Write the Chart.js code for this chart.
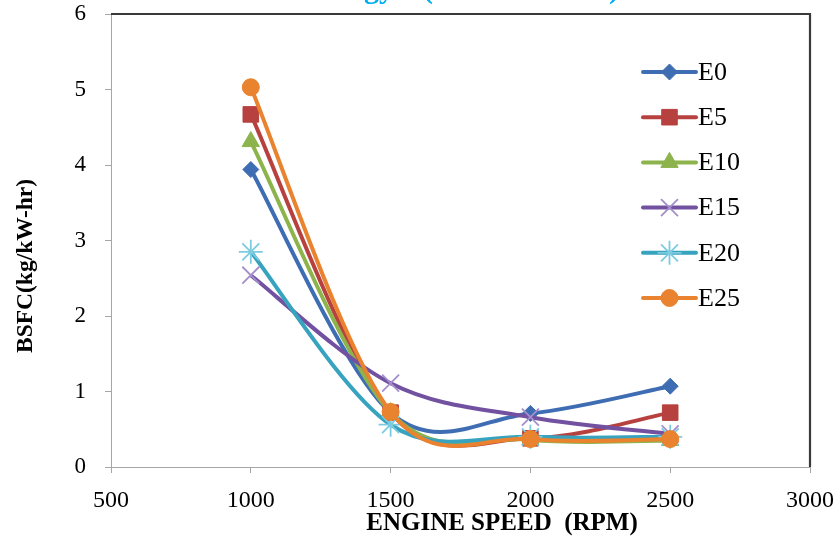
<!DOCTYPE html>
<html><head><meta charset="utf-8">
<script src="https://cdn.jsdelivr.net/npm/chart.js@4.4.1/dist/chart.umd.min.js"></script>
<style>html,body{margin:0;padding:0;background:#fff}#wrap{width:839px;height:537px;position:relative}</style>
</head><body><div id="wrap"><canvas id="c"></canvas></div>
<script>
// ---- data ----
const speeds = [1000, 1500, 2000, 2500];
const seriesNames = ['E0', 'E5', 'E10', 'E15', 'E20', 'E25'];
const e0  = [3.94, 0.72, 0.71, 1.07];
const e5  = [4.67, 0.72, 0.38, 0.72];
const e10 = [4.31, 0.72, 0.36, 0.35];
const e15 = [2.54, 1.11, 0.66, 0.44];
const e20 = [2.85, 0.56, 0.40, 0.40];
const e25 = [5.03, 0.73, 0.37, 0.37];
const xTicks = [500, 1000, 1500, 2000, 2500, 3000];
const yTicks = [0, 1, 2, 3, 4, 5, 6];
const xTitle = 'ENGINE SPEED  (RPM)';
const yTitle = 'BSFC(kg/kW-hr)';
const titleWord = 'Energy';

// ---- styles ----
const values = [e0, e5, e10, e15, e20, e25];
const lineColors = ['#3e6db3', '#b7413e', '#8db34c', '#7251a0', '#37a3bf', '#e9832f'];
const markerColors = ['#3e6db3', '#b7413e', '#8db34c', '#a48fcc', '#7ccbe0', '#e9832f'];
const pStyles = ['rectRot', 'rect', 'triangle', 'crossRot', 'star', 'circle'];
const pRadius = [8, 11, 10, 12, 12, 8.5];
const serif = "'Liberation Serif','Times New Roman',serif";

const datasets = seriesNames.map((n, i) => ({
  label: n,
  data: speeds.map((s, k) => ({x: s, y: values[i][k]})),
  borderColor: lineColors[i],
  backgroundColor: markerColors[i],
  borderWidth: 4,
  tension: 0.4,
  pointStyle: pStyles[i],
  pointRadius: pRadius[i],
  pointBorderColor: markerColors[i],
  pointBackgroundColor: markerColors[i],
  pointBorderWidth: (pStyles[i] === 'crossRot' || pStyles[i] === 'star') ? 1.8 : 1,
  order: seriesNames.length - i,
  clip: false
}));

// Excel-like smoothing (uniform Catmull-Rom) applied to the library's own point positions
const smoother = {
  id: 'smoother',
  beforeDatasetsDraw(chart) {
    chart.getSortedVisibleDatasetMetas().forEach(meta => {
      const line = meta.dataset;
      if (line && line.updateControlPoints) line.updateControlPoints(chart.chartArea, 'x');
      const pts = meta.data, n = pts.length;
      for (let i = 0; i < n; i++) {
        const p = pts[i];
        const prev = pts[Math.max(i - 1, 0)], next = pts[Math.min(i + 1, n - 1)];
        const tx = next.x - prev.x, ty = next.y - prev.y, k = 1 / 6;
        p.cp1x = p.x - tx * k; p.cp1y = p.y - ty * k;
        p.cp2x = p.x + tx * k; p.cp2y = p.y + ty * k;
      }
      if (line) line._path = undefined;
    });
  }
};

const decor = {
  id: 'decor',
  afterDatasetsDraw(chart) {
    const ctx = chart.ctx, a = chart.chartArea;
    ctx.save();
    // top/right frame
    ctx.strokeStyle = '#3a3a3a';
    ctx.lineWidth = 2.2;
    ctx.beginPath();
    ctx.moveTo(a.left, a.top); ctx.lineTo(a.right, a.top); ctx.lineTo(a.right, a.bottom);
    ctx.stroke();
    // legend
    const lx0 = 643, lx1 = 696, ly0 = 72, dy = 45.2;
    chart.data.datasets.forEach((ds, i) => {
      const y = ly0 + dy * i;
      ctx.strokeStyle = ds.borderColor; ctx.lineWidth = 4; ctx.lineCap = 'round';
      ctx.beginPath(); ctx.moveTo(lx0, y); ctx.lineTo(lx1, y); ctx.stroke();
      ctx.lineCap = 'butt';
      ctx.fillStyle = ds.pointBackgroundColor; ctx.strokeStyle = ds.pointBorderColor;
      ctx.lineWidth = ds.pointBorderWidth;
      Chart.helpers.drawPoint(ctx, {pointStyle: ds.pointStyle, radius: ds.pointRadius, rotation: 0, borderWidth: ds.pointBorderWidth}, (lx0 + lx1) / 2, y);
      ctx.fillStyle = '#000'; ctx.font = '26px ' + serif;
      ctx.textBaseline = 'middle'; ctx.textAlign = 'left';
      ctx.fillText(ds.label, lx1 + 2, y + 1);
    });
    // axis titles
    ctx.fillStyle = '#000';
    ctx.font = 'bold 25px ' + serif;
    ctx.textAlign = 'center'; ctx.textBaseline = 'middle';
    ctx.fillText(xTitle, 502, 524);
    ctx.save();
    ctx.translate(26, 266); ctx.rotate(-Math.PI / 2);
    ctx.font = 'bold 23.5px ' + serif;
    ctx.fillText(yTitle, 0, 0);
    ctx.restore();
    // clipped title fragment
    ctx.fillStyle = '#00aeef';
    ctx.font = 'bold 30px ' + serif;
    ctx.textBaseline = 'alphabetic';
    ctx.textAlign = 'right'; ctx.fillText(titleWord, 394, -2);
    ctx.textAlign = 'left'; ctx.fillText('(', 423, -2);
    ctx.fillText(')', 609, -2);
    ctx.restore();
  }
};

new Chart(document.getElementById('c'), {
  type: 'line',
  data: {datasets},
  plugins: [smoother, decor],
  options: {
    responsive: true, maintainAspectRatio: false, animation: false,
    layout: {autoPadding: false, padding: {top: 14, right: 29, left: 0, bottom: 0}},
    plugins: {legend: {display: false}, title: {display: false}, tooltip: {enabled: false}},
    scales: {
      x: {
        type: 'linear', min: xTicks[0], max: xTicks[xTicks.length - 1],
        afterBuildTicks: s => { s.ticks = xTicks.map(v => ({value: v})); },
        afterFit: s => { s.height = 70; s.paddingLeft = 0; s.paddingRight = 0; },
        grid: {display: true, drawOnChartArea: false, drawTicks: true, tickLength: 6, color: '#a6a6a6'},
        border: {display: true, color: '#a6a6a6', width: 1},
        ticks: {color: '#000', font: {family: serif, size: 24}, padding: 13, maxRotation: 0, callback: v => String(v)}
      },
      y: {
        type: 'linear', min: yTicks[0], max: yTicks[yTicks.length - 1],
        afterBuildTicks: s => { s.ticks = yTicks.map(v => ({value: v})); },
        afterFit: s => { s.width = 111; s.paddingTop = 0; s.paddingBottom = 0; },
        grid: {display: true, drawOnChartArea: false, drawTicks: true, tickLength: 6, color: '#a6a6a6'},
        border: {display: true, color: '#a6a6a6', width: 1},
        ticks: {color: '#000', font: {family: serif, size: 23}, padding: 19, callback: v => String(v)}
      }
    }
  }
});
</script></body></html>
